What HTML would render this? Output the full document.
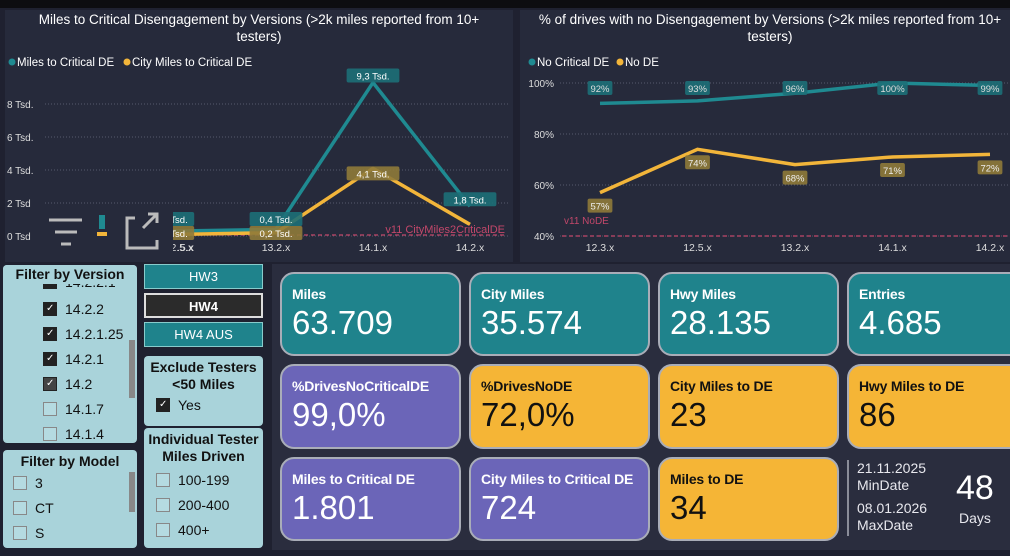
<!DOCTYPE html>
<html><head><meta charset="utf-8"><style>
*{box-sizing:border-box;margin:0;padding:0}
body{width:1010px;height:556px;background:#1f2130;font-family:"Liberation Sans",sans-serif;position:relative;overflow:hidden;color:#fff}
.abs{position:absolute}
.panel{background:#262a3b}
.card{position:absolute;border:2px solid #a9adb8;border-radius:14px;padding:12px 10px}
.card .t{font-size:14px;font-weight:bold;font-family:"Liberation Sans Narrow","Liberation Sans",sans-serif;letter-spacing:-0.2px}
.card .v{font-size:33px;margin-top:2px;font-family:"Liberation Sans Narrow","Liberation Sans",sans-serif}
.teal{background:#1f838c}
.yel{background:#f5b536;color:#111}
.pur{background:#6b65b8}
.fp{position:absolute;background:#a9d3da;border-radius:4px;color:#111}
.fp h4{text-align:center;font-size:14px;margin-top:3px}
.cb{display:inline-block;width:14px;height:14px;border:1px solid #888;vertical-align:-2px;margin-right:8px;background:#b5dbe1;position:relative}
.cb.on{background:#222;border-color:#222}
.cb.on:after{content:"✓";color:#fff;font-size:10px;line-height:12px;position:absolute;left:2px;top:0}
.row{font-size:14px;height:25px;line-height:25px}
.btn{position:absolute;left:144px;width:119px;height:25px;text-align:center;line-height:23px;font-size:13px;border:1px solid #8cc}
</style></head><body>
<div class="abs" style="left:0;top:0;width:1010px;height:8px;background:#0d0d10"></div>
<div class="abs panel" style="left:5px;top:10px;width:508px;height:252px">
<svg id="c1" width="508" height="252"></svg>
</div>
<div class="abs panel" style="left:520px;top:10px;width:490px;height:252px">
<svg id="c2" width="490" height="252"></svg>
</div>

<div class="fp" style="left:3px;top:265px;width:134px;height:178px;overflow:hidden">
<div style="position:absolute;left:40px;top:9px;font-size:14px"><span class="cb on"></span>14.2.2.1</div>
<div style="position:absolute;left:40px;top:32px">
<div class="row"><span class="cb on"></span>14.2.2</div>
<div class="row"><span class="cb on"></span>14.2.1.25</div>
<div class="row"><span class="cb on"></span>14.2.1</div>
<div class="row"><span class="cb on" style="background:#444"></span>14.2</div>
<div class="row"><span class="cb"></span>14.1.7</div>
<div class="row"><span class="cb"></span>14.1.4</div>
</div>
<div class="abs" style="left:126px;top:75px;width:6px;height:58px;background:#888"></div>
<div class="abs" style="left:0;top:0;width:134px;height:19px;background:#a9d3da"></div>
<h4 class="abs" style="left:0;top:0;width:134px;margin-top:1px">Filter by Version</h4>
</div>
<div class="fp" style="left:3px;top:450px;width:134px;height:98px">
<h4>Filter by Model</h4>
<div style="margin-left:10px;margin-top:2px">
<div class="row"><span class="cb"></span>3</div>
<div class="row"><span class="cb"></span>CT</div>
<div class="row"><span class="cb"></span>S</div>
</div>
<div class="abs" style="left:126px;top:22px;width:6px;height:40px;background:#888"></div>
</div>
<div class="btn" style="top:264px;background:#1f838c;color:#fff">HW3</div>
<div class="btn" style="top:293px;background:#2b2b2b;color:#fff;border:2px solid #ddd;font-weight:bold">HW4</div>
<div class="btn" style="top:322px;background:#1f838c;color:#fff">HW4 AUS</div>
<div class="fp" style="left:144px;top:356px;width:119px;height:70px">
<h4 style="line-height:17px">Exclude Testers<br>&lt;50 Miles</h4>
<div class="row" style="margin-left:12px"><span class="cb on"></span>Yes</div>
</div>
<div class="fp" style="left:144px;top:428px;width:119px;height:120px">
<h4 style="line-height:17px">Individual Tester<br>Miles Driven</h4>
<div style="margin-left:12px;margin-top:3px">
<div class="row"><span class="cb"></span>100-199</div>
<div class="row"><span class="cb"></span>200-400</div>
<div class="row"><span class="cb"></span>400+</div>
</div>
</div>

<div class="abs" style="left:272px;top:264px;width:738px;height:286px;background:#2a2d3e"></div>
<div class="card teal" style="left:280px;top:272px;width:181px;height:84px"><div class="t">Miles</div><div class="v">63.709</div></div>
<div class="card teal" style="left:469px;top:272px;width:181px;height:84px"><div class="t">City Miles</div><div class="v">35.574</div></div>
<div class="card teal" style="left:658px;top:272px;width:181px;height:84px"><div class="t">Hwy Miles</div><div class="v">28.135</div></div>
<div class="card teal" style="left:847px;top:272px;width:181px;height:84px"><div class="t">Entries</div><div class="v">4.685</div></div>
<div class="card pur" style="left:280px;top:364px;width:181px;height:85px"><div class="t">%DrivesNoCriticalDE</div><div class="v">99,0%</div></div>
<div class="card yel" style="left:469px;top:364px;width:181px;height:85px"><div class="t">%DrivesNoDE</div><div class="v">72,0%</div></div>
<div class="card yel" style="left:658px;top:364px;width:181px;height:85px"><div class="t">City Miles to DE</div><div class="v">23</div></div>
<div class="card yel" style="left:847px;top:364px;width:181px;height:85px"><div class="t">Hwy Miles to DE</div><div class="v">86</div></div>
<div class="card pur" style="left:280px;top:457px;width:181px;height:84px"><div class="t">Miles to Critical DE</div><div class="v">1.801</div></div>
<div class="card pur" style="left:469px;top:457px;width:181px;height:84px"><div class="t">City Miles to Critical DE</div><div class="v">724</div></div>
<div class="card yel" style="left:658px;top:457px;width:181px;height:84px"><div class="t">Miles to DE</div><div class="v">34</div></div>
<div class="abs" style="left:847px;top:460px;width:2px;height:76px;background:#8a8d99"></div>
<div class="abs" style="left:857px;top:460px;font-size:14px;line-height:17px;color:#e8e8ee">21.11.2025<br>MinDate<div style="height:6px"></div>08.01.2026<br>MaxDate</div>
<div class="abs" style="left:956px;top:469px;font-size:34px;font-family:'Liberation Sans Narrow','Liberation Sans',sans-serif">48</div>
<div class="abs" style="left:959px;top:510px;font-size:14px;color:#e8e8ee">Days</div>

<script>
const cats1=["12.3.x","12.5.x","13.2.x","14.1.x","14.2.x"];
const milesCrit=[0.3,0.3,0.4,9.3,1.8];
const cityCrit=[0.1,0.1,0.2,4.1,0.7];
const ticks1=[0,2,4,6,8];
const tickLabels1=["0 Tsd","2 Tsd","4 Tsd.","6 Tsd.","8 Tsd."];
const lbl1a=["0,3 Tsd.","Tsd.","0,4 Tsd.","9,3 Tsd.","1,8 Tsd."];
const lbl1b=["0,1 Tsd.","Tsd.","0,2 Tsd.","4,1 Tsd.",""];
const cats2=["12.3.x","12.5.x","13.2.x","14.1.x","14.2.x"];
const noCrit=[92,93,96,100,99];
const noDE=[57,74,68,71,72];
const ticks2=[40,60,80,100];
const NS="http://www.w3.org/2000/svg";
function mk(svg,tag,a,txt){const e=document.createElementNS(NS,tag);for(const k in a)e.setAttribute(k,a[k]);if(txt!==undefined)e.textContent=txt;svg.appendChild(e);return e;}
const TEAL="#1f8a91",YEL="#f2b53a",RED="#c2476a";
const s1=document.getElementById('c1');
mk(s1,'text',{x:254,y:14,'text-anchor':'middle','font-size':13.5,fill:'#fff'},"Miles to Critical Disengagement by Versions (>2k miles reported from 10+");
mk(s1,'text',{x:254,y:31,'text-anchor':'middle','font-size':13.5,fill:'#fff'},"testers)");
mk(s1,'circle',{cx:7,cy:52,r:3.5,fill:TEAL});
mk(s1,'text',{x:12,y:56,'font-size':11.5,fill:'#fff'},"Miles to Critical DE");
mk(s1,'circle',{cx:122,cy:52,r:3.5,fill:YEL});
mk(s1,'text',{x:127,y:56,'font-size':11.5,fill:'#fff'},"City Miles to Critical DE");
const x1=i=>77+i*97, y1=v=>226-v*16.5;
ticks1.forEach((t,i)=>{mk(s1,'line',{x1:40,x2:505,y1:y1(t),y2:y1(t),stroke:'#555a6c','stroke-dasharray':'1 2'});
mk(s1,'text',{x:2,y:y1(t)+4,'font-size':10,fill:'#ddd'},tickLabels1[i]);});
mk(s1,'line',{x1:40,x2:500,y1:y1(0)-1,y2:y1(0)-1,stroke:RED,'stroke-dasharray':'4 3','stroke-width':1.2});
cats1.forEach((c,i)=>mk(s1,'text',{x:x1(i),y:241,'text-anchor':'middle','font-size':10.5,fill:'#ddd'},c));
function line(svg,xf,yf,vals,col){mk(svg,'polyline',{points:vals.map((v,i)=>xf(i)+','+yf(v)).join(' '),fill:'none',stroke:col,'stroke-width':3.5,'stroke-linejoin':'round'});}
line(s1,x1,y1,milesCrit,TEAL);line(s1,x1,y1,cityCrit,YEL);
function badge(svg,x,y,t,bg,fc){if(!t)return;const w=t.length*5.6+8;mk(svg,'rect',{x:x-w/2,y:y-8,width:w,height:14,rx:2,fill:bg,opacity:0.9});mk(svg,'text',{x:x,y:y+3,'text-anchor':'middle','font-size':9.5,fill:fc},t);}
milesCrit.forEach((v,i)=>badge(s1,x1(i),Math.min(y1(v)-6,y1(0)-16),lbl1a[i],'#1d6f78','#fff'));
cityCrit.forEach((v,i)=>badge(s1,x1(i),i==3?y1(v)+6:y1(0)-2,lbl1b[i],'#8f7a3a','#fff'));
mk(s1,'text',{x:500,y:y1(0)-3,'text-anchor':'end','font-size':11,fill:RED},"v11 CityMiles2CriticalDE");
mk(s1,'rect',{x:38,y:197,width:130,height:55,fill:'#262a3b'});
mk(s1,'text',{x:172,y:241,'font-size':10.5,fill:'#ddd'},".5.x");
const ic=mk(s1,'g',{stroke:'#bbb','stroke-width':3,fill:'none'});

[[44,77,210],[50,72,222],[56,66,234]].forEach(a=>mk(ic,'line',{x1:a[0],x2:a[1],y1:a[2],y2:a[2]}));
mk(s1,'rect',{x:94,y:205,width:6,height:14,fill:'#1f8a91'});mk(s1,'rect',{x:92,y:222,width:10,height:4,fill:YEL});
const fi=mk(s1,'g',{stroke:'#bbb','stroke-width':3,fill:'none'});

mk(fi,'path',{d:'M130 208 h-8 v30 h30 v-8 M138 218 l14 -14 M143 204 h9 v9'});
const s2=document.getElementById('c2');
mk(s2,'text',{x:250,y:14,'text-anchor':'middle','font-size':13.5,fill:'#fff'},"% of drives with no Disengagement by Versions (>2k miles reported from 10+");
mk(s2,'text',{x:250,y:31,'text-anchor':'middle','font-size':13.5,fill:'#fff'},"testers)");
mk(s2,'circle',{cx:12,cy:52,r:3.5,fill:TEAL});
mk(s2,'text',{x:17,y:56,'font-size':11.5,fill:'#fff'},"No Critical DE");
mk(s2,'circle',{cx:100,cy:52,r:3.5,fill:YEL});
mk(s2,'text',{x:105,y:56,'font-size':11.5,fill:'#fff'},"No DE");
const x2=i=>80+i*97.5, y2=v=>226-(v-40)*2.55;
ticks2.forEach(t=>{mk(s2,'line',{x1:40,x2:490,y1:y2(t),y2:y2(t),stroke:'#555a6c','stroke-dasharray':'1 2'});
mk(s2,'text',{x:34,y:y2(t)+4,'text-anchor':'end','font-size':10,fill:'#ddd'},t+'%');});
mk(s2,'line',{x1:42,x2:490,y1:y2(40),y2:y2(40),stroke:RED,'stroke-dasharray':'4 3','stroke-width':1.2});
mk(s2,'text',{x:44,y:y2(40)-12,'font-size':10,fill:RED},"v11 NoDE");
cats2.forEach((c,i)=>mk(s2,'text',{x:x2(i),y:241,'text-anchor':'middle','font-size':10.5,fill:'#ddd'},c));
line(s2,x2,y2,noCrit,TEAL);line(s2,x2,y2,noDE,YEL);
noCrit.forEach((v,i)=>badge(s2,x2(i),y2(100)+6,v+'%','#1d6f78','#ddd'));
noDE.forEach((v,i)=>badge(s2,x2(i),y2(v)+14,v+'%','#8f7a3a','#eee'));
</script>
</body></html>
